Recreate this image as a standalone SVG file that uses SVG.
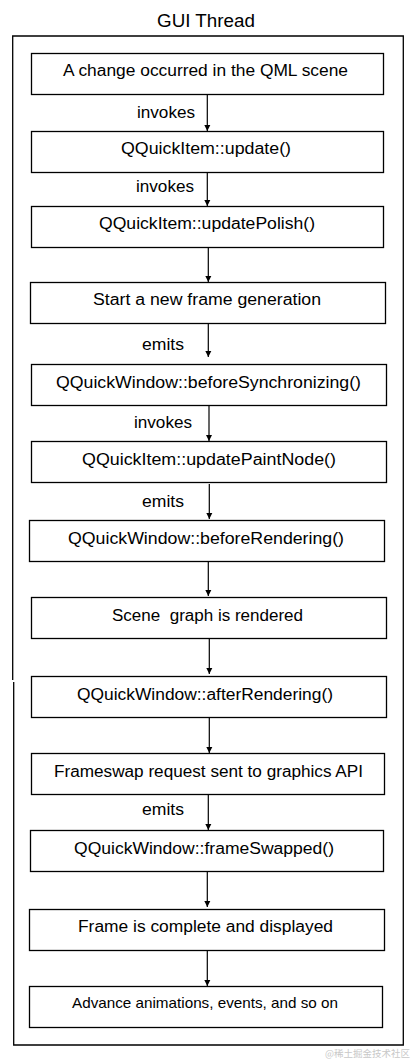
<svg xmlns="http://www.w3.org/2000/svg" width="413" height="1061" viewBox="0 0 413 1061">
<style>
.box{fill:#fff;stroke:#000;stroke-width:1.3}
.t{font-family:"Liberation Sans",Arial,sans-serif;font-size:16px;fill:#000;text-anchor:middle}
.lbl{font-family:"Liberation Sans",Arial,sans-serif;font-size:16px;fill:#000}
.frame{fill:none;stroke:#000;stroke-width:1.3}
.c{stroke:#000;stroke-width:1.2;fill:none;marker-end:url(#ah)}
</style>
<defs>
<marker id="ah" markerUnits="userSpaceOnUse" markerWidth="7" markerHeight="7" refX="6" refY="3.5" orient="auto">
<path d="M0,0.5 L6,3.5 L0,6.5 z" fill="#000"/>
</marker>
</defs>
<rect width="413" height="1061" fill="#fff"/>
<text class="t" x="206" y="27" style="font-size:17.5px" textLength="98" lengthAdjust="spacingAndGlyphs">GUI Thread</text>
<g id="frame">
<path class="frame" d="M12.7,680 L12.7,36 L403.3,36 L403.3,1045 L13.7,1045 L13.7,682"/>
</g>
<g id="connectors">
<line class="c" x1="207.3" y1="94" x2="207.3" y2="131"/>
<line class="c" x1="207.3" y1="172" x2="207.3" y2="206"/>
<line class="c" x1="208.3" y1="247" x2="208.3" y2="282"/>
<line class="c" x1="208.3" y1="324" x2="208.3" y2="357"/>
<line class="c" x1="209" y1="406" x2="209" y2="441"/>
<line class="c" x1="209.3" y1="484" x2="209.3" y2="519"/>
<line class="c" x1="208.3" y1="561" x2="208.3" y2="596"/>
<line class="c" x1="209.3" y1="638" x2="209.3" y2="674"/>
<line class="c" x1="209.3" y1="717" x2="209.3" y2="753"/>
<line class="c" x1="208.3" y1="794" x2="208.3" y2="830"/>
<line class="c" x1="207.3" y1="872" x2="207.3" y2="907"/>
<line class="c" x1="207.3" y1="950" x2="207.3" y2="986"/>
<text class="lbl" x="137" y="118" textLength="58" lengthAdjust="spacingAndGlyphs">invokes</text>
<text class="lbl" x="136" y="191.5" textLength="58" lengthAdjust="spacingAndGlyphs">invokes</text>
<text class="lbl" x="142" y="350" textLength="42" lengthAdjust="spacingAndGlyphs">emits</text>
<text class="lbl" x="134" y="428" textLength="58" lengthAdjust="spacingAndGlyphs">invokes</text>
<text class="lbl" x="142" y="506.5" textLength="42" lengthAdjust="spacingAndGlyphs">emits</text>
<text class="lbl" x="142" y="815" textLength="42" lengthAdjust="spacingAndGlyphs">emits</text>
</g>
<g id="n1"><rect class="box" x="31.5" y="53.5" width="352" height="41"/><text class="t" x="205.5" y="76" textLength="285" lengthAdjust="spacingAndGlyphs">A change occurred in the QML scene</text></g>
<g id="n2"><rect class="box" x="31.5" y="131.5" width="352" height="41"/><text class="t" x="206" y="154.3" textLength="170" lengthAdjust="spacingAndGlyphs">QQuickItem::update()</text></g>
<g id="n3"><rect class="box" x="31.5" y="206.5" width="352" height="41"/><text class="t" x="207" y="229.3" textLength="216" lengthAdjust="spacingAndGlyphs">QQuickItem::updatePolish()</text></g>
<g id="n4"><rect class="box" x="30.5" y="282.5" width="355" height="41"/><text class="t" x="207" y="305" textLength="228" lengthAdjust="spacingAndGlyphs">Start a new frame generation</text></g>
<g id="n5"><rect class="box" x="31.5" y="364.5" width="355" height="41"/><text class="t" x="208.5" y="387.5" textLength="305" lengthAdjust="spacingAndGlyphs">QQuickWindow::beforeSynchronizing()</text></g>
<g id="n6"><rect class="box" x="31.5" y="441.5" width="355" height="41"/><text class="t" x="209" y="464.5" textLength="254" lengthAdjust="spacingAndGlyphs">QQuickItem::updatePaintNode()</text></g>
<g id="n7"><rect class="box" x="29.5" y="520.5" width="355" height="41"/><text class="t" x="206" y="543.5" textLength="276" lengthAdjust="spacingAndGlyphs">QQuickWindow::beforeRendering()</text></g>
<g id="n8"><rect class="box" x="31.5" y="597.5" width="355" height="41"/><text class="t" x="207.5" y="620.5" xml:space="preserve" textLength="191" lengthAdjust="spacingAndGlyphs">Scene  graph is rendered</text></g>
<g id="n9"><rect class="box" x="31.5" y="676.5" width="355" height="41"/><text class="t" x="205" y="699.5" textLength="256" lengthAdjust="spacingAndGlyphs">QQuickWindow::afterRendering()</text></g>
<g id="n10"><rect class="box" x="31.5" y="753.5" width="353" height="41"/><text class="t" x="208.5" y="776.5" textLength="309" lengthAdjust="spacingAndGlyphs">Frameswap request sent to graphics API</text></g>
<g id="n11"><rect class="box" x="30.5" y="830.5" width="353" height="41"/><text class="t" x="204" y="853.5" textLength="260" lengthAdjust="spacingAndGlyphs">QQuickWindow::frameSwapped()</text></g>
<g id="n12"><rect class="box" x="29.5" y="909.5" width="355" height="41"/><text class="t" x="205.5" y="932" textLength="255" lengthAdjust="spacingAndGlyphs">Frame is complete and displayed</text></g>
<g id="n13"><rect class="box" x="29.5" y="986.5" width="353" height="41"/><text class="t" x="205" y="1008" style="font-size:14.5px" textLength="266" lengthAdjust="spacingAndGlyphs">Advance animations, events, and so on</text></g>
<text x="410" y="1057" text-anchor="end" style="font-family:'Noto Sans CJK SC',sans-serif;font-size:9.5px;fill:#c8c8c8">@稀土掘金技术社区</text>
</svg>
